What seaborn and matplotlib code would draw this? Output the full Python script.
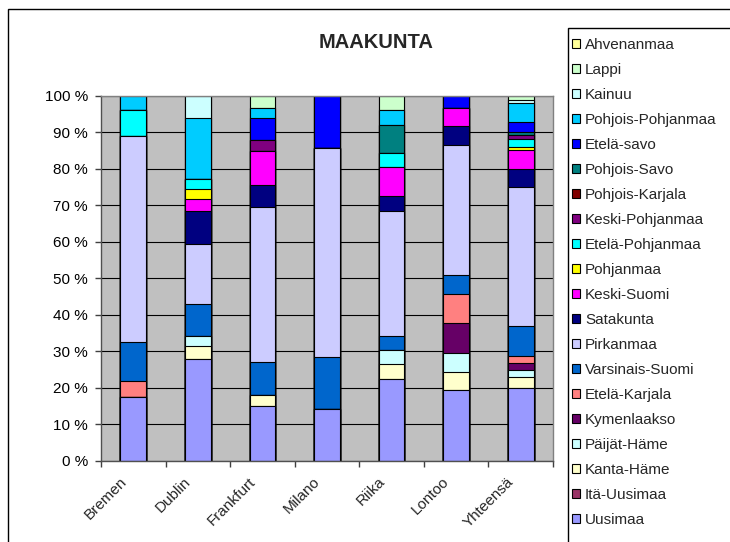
import matplotlib
matplotlib.use("Agg")
import matplotlib.pyplot as plt
import matplotlib.transforms as mtransforms
from matplotlib.patches import Patch, Rectangle
import numpy as np
import pandas as pd
import seaborn as sns

# ---- data (percent shares) ----
cities = ["Bremen", "Dublin", "Frankfurt", "Milano", "Riika", "Lontoo", "Yhteensä"]

# stacking order: bottom -> top
regions = ["Uusimaa", "Itä-Uusimaa", "Kanta-Häme", "Päijät-Häme", "Kymenlaakso",
           "Etelä-Karjala", "Varsinais-Suomi", "Pirkanmaa", "Satakunta", "Keski-Suomi",
           "Pohjanmaa", "Etelä-Pohjanmaa", "Keski-Pohjanmaa", "Pohjois-Karjala",
           "Pohjois-Savo", "Etelä-savo", "Pohjois-Pohjanmaa", "Kainuu", "Lappi", "Ahvenanmaa"]

bremen    = [17.5, 0, 0.0, 0.0, 0.0, 4.3, 10.6, 56.6, 0.0, 0.0, 0.0, 7.1, 0.0, 0, 0.0, 0.0, 3.9, 0.0, 0.0, 0]
dublin    = [28.0, 0, 3.3, 2.9, 0.0, 0.0, 8.8, 16.5, 8.9, 3.2, 2.8, 2.9, 0.0, 0, 0.0, 0.0, 16.7, 6.0, 0.0, 0]
frankfurt = [15.0, 0, 2.9, 0.0, 0.0, 0.0, 9.1, 42.5, 6.0, 9.3, 0.0, 0.0, 3.1, 0, 0.0, 6.1, 2.7, 0.0, 3.3, 0]
milano    = [14.2, 0, 0.0, 0.0, 0.0, 0.0, 14.2, 57.4, 0.0, 0.0, 0.0, 0.0, 0.0, 0, 0.0, 14.2, 0.0, 0.0, 0.0, 0]
riika     = [22.4, 0, 4.0, 3.8, 0.0, 0.0, 4.0, 34.2, 4.0, 8.0, 0.0, 4.0, 0.0, 0, 7.7, 0.0, 4.0, 0.0, 3.9, 0]
lontoo    = [19.4, 0, 4.9, 5.3, 8.1, 8.1, 5.0, 35.6, 5.3, 5.0, 0.0, 0.0, 0.0, 0, 0.0, 3.3, 0.0, 0.0, 0.0, 0]
yhteensa  = [20.0, 0, 2.9, 2.0, 1.8, 2.0, 8.0, 38.0, 5.0, 5.2, 0.9, 2.1, 1.1, 0, 0.9, 2.8, 5.2, 0.8, 1.1, 0]

colors = ["#9999FF", "#993366", "#FFFFCC", "#CCFFFF", "#660066", "#FF8080", "#0066CC",
          "#CCCCFF", "#000080", "#FF00FF", "#FFFF00", "#00FFFF", "#800080", "#800000",
          "#008080", "#0000FF", "#00CCFF", "#CCFFFF", "#CCFFCC", "#FFFF99"]

# ---- build table ----
df = pd.DataFrame({c: v for c, v in zip(cities, [bremen, dublin, frankfurt, milano,
                                                  riika, lontoo, yhteensa])}, index=regions)
df = df / df.sum(axis=0) * 100.0          # 100 % stacked
cum = df.cumsum(axis=0)                   # cumulative tops

sns.set_theme(style="white")
plt.rcParams["font.family"] = ["Liberation Sans", "DejaVu Sans"]

W, H = 730, 542
fig = plt.figure(figsize=(W / 100, H / 100), dpi=100)
fig.patch.set_facecolor("white")
L, R, T, B = 101, 553, 95.7, 460.7
ax = fig.add_axes([L / W, 1 - B / H, (R - L) / W, (B - T) / H])
ax.set_facecolor("#C0C0C0")

# draw from the top series downwards so every segment shows its own colour
for reg, col in zip(regions[::-1], colors[::-1]):
    sns.barplot(x=cities, y=cum.loc[reg].values, color=col, saturation=1,
                width=0.4, edgecolor="black", linewidth=0.8, errorbar=None, ax=ax)

ax.set_ylim(0, 100)
ax.set_xlim(-0.5, len(cities) - 0.5)
yt = np.arange(0, 101, 10)
ax.set_yticks(yt)
ax.set_yticklabels([f"{v} %" for v in yt], fontsize=11, color="black")
ax.yaxis.grid(True, color="black", linewidth=0.8)
ax.xaxis.grid(False)
ax.set_axisbelow(True)
ax.set_xlabel("")
ax.set_ylabel("")

ax.set_xticks(range(len(cities)))
ax.set_xticks(np.arange(-0.5, len(cities)), minor=True)
ax.set_xticklabels(cities, fontsize=11, rotation=45, ha="right", va="top",
                   rotation_mode="anchor")
ax.tick_params(axis="x", which="major", length=0, pad=10)
ax.tick_params(axis="x", which="minor", length=4.3, width=1, color="#404040",
               direction="out", bottom=True)
ax.tick_params(axis="y", length=4.3, width=1, color="#404040", direction="out",
               left=True, pad=5)
offset = mtransforms.ScaledTranslation(-14 / 100, 0, fig.dpi_scale_trans)
for lab in ax.get_xticklabels():
    lab.set_transform(lab.get_transform() + offset)

for side in ["left", "bottom"]:
    ax.spines[side].set_color("#505050")
    ax.spines[side].set_linewidth(1)
for side in ["top", "right"]:
    ax.spines[side].set_color("#808080")
    ax.spines[side].set_linewidth(1)

# title
fig.text(376 / W, 1 - 42 / H, "MAAKUNTA", ha="center", va="center",
         fontsize=14.5, fontweight="bold")

# legend (top series first)
handles = [Patch(facecolor=c, edgecolor="black", linewidth=0.8)
           for c in colors[::-1]]
fig.legend(handles, regions[::-1], loc="upper left",
           bbox_to_anchor=(565 / W, 1 - 31 / H), frameon=False, fontsize=11,
           handlelength=0.5, handleheight=0.5, handletextpad=0.35,
           labelspacing=0.72, borderpad=0.45, borderaxespad=0)
fig.add_artist(Rectangle((568 / W, -0.1), 0.5, 1 - 28 / H + 0.1,
                         transform=fig.transFigure, fill=False,
                         edgecolor="black", linewidth=1))

# outer chart frame
fig.add_artist(Rectangle((8 / W, -0.1), 1.2, 1 - 9 / H + 0.1,
                         transform=fig.transFigure, fill=False,
                         edgecolor="black", linewidth=1))

fig.savefig("out.png", dpi=100)
